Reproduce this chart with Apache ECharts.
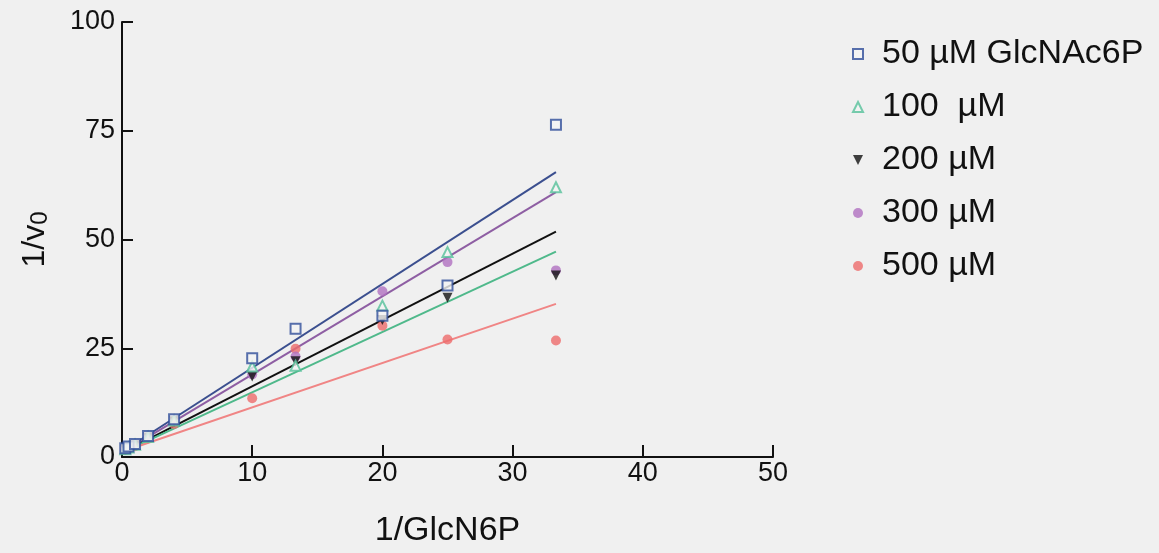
<!DOCTYPE html>
<html>
<head>
<meta charset="utf-8">
<script src="https://cdn.jsdelivr.net/npm/echarts@6/dist/echarts.min.js"></script>
<style>
  html, body { margin: 0; padding: 0; background: #f0f0f0; }
  #chart { width: 1159px; height: 553px; }
</style>
</head>
<body>
<div id="chart"></div>
<script>
// 1/[GlcN6P] values
const xValues = [0.25, 0.5, 1, 2, 4, 10, 13.33, 20, 25, 33.33];

// 1/v0 per GlcNAc6P concentration
const s50 = [2.0, 2.4, 3.0, 4.8, 8.7, 22.7, 29.5, 32.5, 39.4, 76.4];
const s100 = [1.8, 2.2, 2.8, 4.6, 8.4, 20.8, 21.0, 34.8, 47.1, 62.0];
const s200 = [1.7, 2.1, 2.7, 4.5, 8.2, 18.5, 22.0, 31.5, 36.6, 41.7];
const s300 = [1.8, 2.2, 2.8, 4.6, 8.3, 19.0, 23.1, 38.1, 44.8, 42.9];
const s500 = [1.6, 2.0, 2.5, 4.3, 7.6, 13.5, 24.9, 30.2, 27.0, 26.8];

// fitted lines: y at both ends of fitX
const fitX = [0, 33.33];
const fit50 = [1.2, 65.5];
const fit100 = [1.0, 47.2];
const fit200 = [1.0, 51.8];
const fit300 = [1.0, 60.9];
const fit500 = [1.2, 35.2];

const names = ["50 µM GlcNAc6P", "100  µM", "200 µM", "300 µM", "500 µM"];

const pair = (xs, ys) => xs.map((x, i) => [x, ys[i]]);

const font = "Liberation Sans, Arial, sans-serif";

const chart = echarts.init(document.getElementById("chart"));

function fitLine(data, color) {
  return {
    type: "line",
    data: pair(fitX, data),
    symbol: "none",
    lineStyle: { color: color, width: 2 },
    silent: true,
    z: 2,
  };
}

chart.setOption({
  backgroundColor: "#f0f0f0",
  animation: false,
  textStyle: { fontFamily: font },
  grid: { left: 122, right: 386, top: 22, bottom: 94 },
  legend: {
    data: names,
    orient: "vertical",
    left: 847,
    top: 32,
    itemWidth: 10,
    itemHeight: 10,
    itemGap: 19,
    textStyle: { fontSize: 34, lineHeight: 34, color: "#111", fontFamily: font, padding: [0, 0, 0, 14] },
  },
  xAxis: {
    type: "value",
    min: 0,
    max: 50,
    interval: 10,
    name: "1/GlcN6P",
    nameLocation: "middle",
    nameGap: 57,
    nameTextStyle: { fontSize: 34, color: "#111", fontFamily: font },
    axisLine: { lineStyle: { color: "#111", width: 2 } },
    axisTick: { inside: true, length: 12, lineStyle: { color: "#111", width: 2 } },
    axisLabel: { fontSize: 27, color: "#111", margin: 3 },
    splitLine: { show: false },
  },
  yAxis: {
    type: "value",
    min: 0,
    max: 100,
    interval: 25,
    name: "{a|1/v}{b|0}",
    nameLocation: "middle",
    nameGap: 70,
    nameRotate: 90,
    nameTextStyle: {
      color: "#111",
      rich: {
        a: { fontSize: 32, fontFamily: font, color: "#111" },
        b: { fontSize: 24, fontFamily: font, color: "#111", padding: [10, 0, 0, 0] },
      },
    },
    axisLine: { lineStyle: { color: "#111", width: 2 } },
    axisTick: { inside: true, length: 11, lineStyle: { color: "#111", width: 2 } },
    axisLabel: { fontSize: 27, color: "#111", margin: 7 },
    splitLine: { show: false },
  },
  series: [
    fitLine(fit50, "#3b4f8f"),
    fitLine(fit300, "#8e5ea3"),
    fitLine(fit200, "#111111"),
    fitLine(fit100, "#4fb98b"),
    fitLine(fit500, "#f08585"),
    {
      name: names[4],
      type: "scatter",
      data: pair(xValues, s500),
      symbol: "circle",
      symbolSize: 10,
      itemStyle: { color: "#ee6b6b" },
      z: 3,
    },
    {
      name: names[3],
      type: "scatter",
      data: pair(xValues, s300),
      symbol: "circle",
      symbolSize: 10,
      itemStyle: { color: "#b070c0" },
      z: 3,
    },
    {
      name: names[2],
      type: "scatter",
      data: pair(xValues, s200),
      symbol: "path://M0,0 L10,0 L5,10 Z",
      symbolSize: 10,
      itemStyle: { color: "#111" },
      z: 4,
    },
    {
      name: names[1],
      type: "scatter",
      data: pair(xValues, s100),
      symbol: "triangle",
      symbolSize: 10,
      itemStyle: { color: "#f4f4f4", borderColor: "#55c19a", borderWidth: 2 },
      z: 4,
    },
    {
      name: names[0],
      type: "scatter",
      data: pair(xValues, s50),
      symbol: "rect",
      symbolSize: 10,
      itemStyle: { color: "#f4f4f4", borderColor: "#2f4d9a", borderWidth: 2 },
      z: 5,
    },
  ],
});
</script>
</body>
</html>
